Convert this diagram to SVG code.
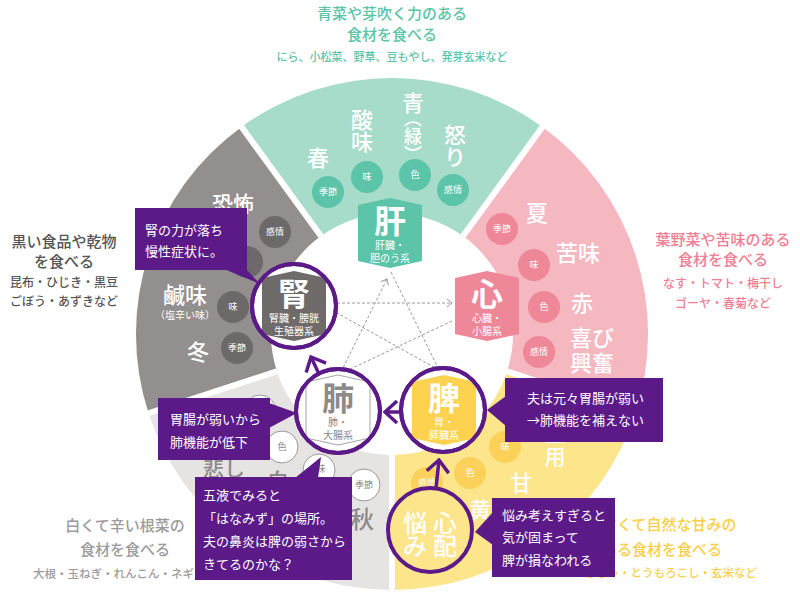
<svg xmlns="http://www.w3.org/2000/svg" width="800" height="600" viewBox="0 0 800 600">
<style>
text{font-family:"Noto Sans CJK JP","Noto Sans",sans-serif}
.big{font-size:22px;fill:#fff;font-weight:500;text-anchor:middle}
.ct{font-size:9px;fill:#fff;text-anchor:middle}
.ctg{font-size:9px;fill:#8c8a8a;text-anchor:middle}
.glyph{font-size:32px;fill:#fff;font-weight:700;text-anchor:middle}
.sub{font-size:10px;fill:#fff;text-anchor:middle}
.co{font-size:13px;fill:#fff}
.cbox{fill:#5b1a87}
.gap{stroke:#fff;stroke-width:6}
.ring{fill:#fff;stroke:#5b1a87;stroke-width:4}
.star{fill:none;stroke:#9a9a9a;stroke-width:1;stroke-dasharray:3 2}
.parrow{fill:none;stroke:#5b1a87;stroke-width:3.5}
.cgc{fill:#5cc4a8}.cpk{fill:#ee8797}.cyl{fill:#fbd15a}.cgy{fill:#6d6969}
.clu{fill:#fff;stroke:#9a9898;stroke-width:1}
</style>
<defs>
<path id="badge" d="M-32,-28 L0,-35 L32,-28 L32,28 L0,35 L-32,28 Z"/>
<marker id="chev" viewBox="-16 -14 18 28" refX="0" refY="0" markerWidth="18" markerHeight="28" markerUnits="userSpaceOnUse" orient="auto">
<path d="M-12,-11 L0,0 L-12,11" fill="none" stroke="#5b1a87" stroke-width="3.5"/>
</marker>
<marker id="dchev" viewBox="-7 -5 8 10" refX="0" refY="0" markerWidth="8" markerHeight="10" markerUnits="userSpaceOnUse" orient="auto">
<path d="M-5,-4 L0,0 L-5,4" fill="none" stroke="#9a9a9a" stroke-width="1"/>
</marker>
</defs>

<!-- sectors -->
<g id="sector-wood">
<path d="M241.5,126.9 A256,256 0 0 1 542.5,126.9 L463.1,236.1 A121,121 0 0 0 320.9,236.1 Z" fill="#a7dccb"/>
<text class="big" x="318" y="166">春</text>
<text class="big" x="362" y="128">酸</text>
<text class="big" x="362" y="150">味</text>
<text class="big" x="413" y="111">青</text>
<text x="413" y="109" style="writing-mode:vertical-rl" font-size="18" fill="#fff" font-weight="500">（緑）</text>
<text class="big" x="455" y="143">怒</text>
<text class="big" x="455" y="165">り</text>
<circle class="cgc" cx="328" cy="192" r="16"/><text class="ct" x="328" y="195">季節</text>
<circle class="cgc" cx="367" cy="177" r="16"/><text class="ct" x="367" y="180">味</text>
<circle class="cgc" cx="415" cy="175" r="16"/><text class="ct" x="415" y="178">色</text>
<circle class="cgc" cx="453" cy="190" r="16"/><text class="ct" x="453" y="193">感情</text>
</g>

<g id="sector-fire">
<path d="M542.5,126.9 A256,256 0 0 1 635.5,413.1 L507.1,371.4 A121,121 0 0 0 463.1,236.1 Z" fill="#f5b7c0"/>
<text class="big" x="537" y="221">夏</text>
<text class="big" x="578" y="261">苦味</text>
<text class="big" x="582" y="311">赤</text>
<text class="big" x="592" y="346">喜び</text>
<text class="big" x="592" y="371">興奮</text>
<circle class="cpk" cx="502" cy="229" r="16"/><text class="ct" x="502" y="232">季節</text>
<circle class="cpk" cx="534" cy="265" r="16"/><text class="ct" x="534" y="268">味</text>
<circle class="cpk" cx="544" cy="307" r="16"/><text class="ct" x="544" y="310">色</text>
<circle class="cpk" cx="539" cy="352" r="16"/><text class="ct" x="539" y="355">感情</text>
</g>

<g id="sector-earth">
<path d="M635.5,413.1 A256,256 0 0 1 392,590 L392,455 A121,121 0 0 0 507.1,371.4 Z" fill="#fde58c"/>
<text class="big" x="555" y="441" style="font-size:21px">土</text>
<text class="big" x="555" y="464" style="font-size:21px">用</text>
<text class="big" x="521" y="491">甘</text>
<text class="big" x="480" y="518">黄</text>
<circle class="cyl" cx="505" cy="447" r="16"/><text class="ct" x="505" y="450">味</text>
<circle class="cyl" cx="470" cy="473" r="16"/><text class="ct" x="470" y="476">色</text>
<circle class="cyl" cx="427" cy="483" r="16"/><text class="ct" x="427" y="486">感情</text>
</g>

<g id="sector-metal">
<path d="M392,590 A256,256 0 0 1 148.5,413.1 L276.9,371.4 A121,121 0 0 0 392,455 Z" fill="#e6e3e3"/>
<text class="big" x="224" y="476" style="fill:#8c8a8a;font-size:21px">悲し</text>
<text class="big" x="278" y="489" style="fill:#8c8a8a">白</text>
<text class="big" x="362" y="528" style="fill:#8c8a8a;font-size:24px">秋</text>
<circle class="clu" cx="260" cy="411" r="16"/>
<circle class="clu" cx="282" cy="447" r="16"/><text class="ctg" x="282" y="450">色</text>
<circle class="clu" cx="319" cy="470" r="16"/><text class="ctg" x="321" y="472">味</text>
<circle class="clu" cx="364" cy="485" r="16"/><text class="ctg" x="364" y="488">季節</text>
</g>

<g id="sector-water">
<path d="M148.5,413.1 A256,256 0 0 1 241.5,126.9 L320.9,236.1 A121,121 0 0 0 276.9,371.4 Z" fill="#938f8f"/>
<text class="big" x="233" y="211" style="font-size:21px">恐怖</text>
<text class="big" x="185" y="303">鹹味</text>
<text x="185" y="319" font-size="10" fill="#fff" text-anchor="middle">（塩辛い味）</text>
<text class="big" x="198" y="360">冬</text>
<circle class="cgy" cx="275" cy="232" r="16"/><text class="ct" x="275" y="235">感情</text>
<circle class="cgy" cx="247" cy="262" r="16"/>
<circle class="cgy" cx="233" cy="307" r="16"/><text class="ct" x="233" y="310">味</text>
<circle class="cgy" cx="237" cy="348" r="16"/><text class="ct" x="237" y="351">季節</text>
</g>

<g id="gaps">
<line class="gap" x1="320.9" y1="236.1" x2="238" y2="122"/>
<line class="gap" x1="463.1" y1="236.1" x2="546" y2="122"/>
<line class="gap" x1="507.1" y1="371.4" x2="641" y2="415"/>
<line class="gap" x1="392" y1="455" x2="392" y2="600"/>
<line class="gap" x1="276.9" y1="371.4" x2="143" y2="415"/>
</g>

<!-- connectors -->
<g id="connectors">
<path class="star" d="M341,372 L387,279" marker-end="url(#dchev)"/>
<path class="star" d="M391,272 L439,370"/>
<path class="star" d="M337,303 L452,303" marker-end="url(#dchev)"/>
<path class="star" d="M439,370 L337,313"/>
<path class="star" d="M452,321 L342,373"/>
</g>

<!-- organ nodes -->
<g id="node-kan">
<use href="#badge" x="390" y="233" fill="#5cc4a8"/>
<text class="glyph" x="390" y="233">肝</text>
<text class="sub" x="390" y="249">肝臓・</text>
<text class="sub" x="390" y="262">胆のう系</text>
</g>
<g id="node-shin">
<use href="#badge" x="487" y="306" fill="#ee8797"/>
<text class="glyph" x="487" y="306">心</text>
<text class="sub" x="487" y="322">心臓・</text>
<text class="sub" x="487" y="335">小腸系</text>
</g>
<g id="node-hi">
<circle class="ring" cx="443" cy="410" r="42"/>
<use href="#badge" x="444" y="410" fill="#fcd24f"/>
<text class="glyph" x="444" y="410">脾</text>
<text class="sub" x="444" y="426">胃・</text>
<text class="sub" x="444" y="439">膵臓系</text>
<circle cx="443" cy="410" r="42" fill="none" stroke="#5b1a87" stroke-width="4"/>
</g>
<g id="node-hai">
<circle class="ring" cx="338" cy="411" r="42"/>
<use href="#badge" x="338" y="410" fill="#fff" stroke="#a8a6a6" stroke-width="1"/>
<text class="glyph" x="338" y="410" style="fill:#8c8a8a">肺</text>
<text class="sub" x="338" y="426" style="fill:#8c8a8a">肺・</text>
<text class="sub" x="338" y="439" style="fill:#8c8a8a">大腸系</text>
<circle cx="338" cy="411" r="42" fill="none" stroke="#5b1a87" stroke-width="4"/>
</g>
<g id="node-jin">
<circle class="ring" cx="294" cy="306" r="42"/>
<use href="#badge" x="294" y="306" fill="#6f6b6b"/>
<text class="glyph" x="294" y="306">腎</text>
<text class="sub" x="294" y="322">腎臓・膀胱</text>
<text class="sub" x="294" y="335">生殖器系</text>
<circle cx="294" cy="306" r="42" fill="none" stroke="#5b1a87" stroke-width="4"/>
</g>
<g id="node-nayami">
<circle cx="430" cy="530" r="42" fill="#fde58c" stroke="#5b1a87" stroke-width="4"/>
<text x="433" y="532" font-size="24" fill="#fff" font-weight="500" text-anchor="middle" letter-spacing="6">悩心</text>
<text x="433" y="555" font-size="24" fill="#fff" font-weight="500" text-anchor="middle" letter-spacing="6">み配</text>
</g>

<g id="purple-arrows">
<path class="parrow" d="M319,374 L311,357" marker-end="url(#chev)"/>
<path class="parrow" d="M401,412 L385,412" marker-end="url(#chev)"/>
<path class="parrow" d="M436,488 L439,460" marker-end="url(#chev)"/>
</g>

<!-- outside texts -->
<g id="food-wood" fill="#5cc4a8" text-anchor="middle" font-weight="500">
<text x="392" y="19" font-size="15">青菜や芽吹く力のある</text>
<text x="392" y="40" font-size="15">食材を食べる</text>
<text x="392" y="61" font-size="11">にら、小松菜、野草、豆もやし、発芽玄米など</text>
</g>
<g id="food-fire" fill="#ee7f95" text-anchor="middle" font-weight="500">
<text x="723" y="245" font-size="15">葉野菜や苦味のある</text>
<text x="723" y="265" font-size="15">食材を食べる</text>
<text x="723" y="288" font-size="12">なす・トマト・梅干し</text>
<text x="723" y="308" font-size="12">ゴーヤ・春菊など</text>
</g>
<g id="food-water" fill="#555" text-anchor="middle" font-weight="500">
<text x="64" y="247" font-size="15">黒い食品や乾物</text>
<text x="64" y="267" font-size="15">を食べる</text>
<text x="64" y="287" font-size="12">昆布・ひじき・黒豆</text>
<text x="64" y="306" font-size="12">ごぼう・あずきなど</text>
</g>
<g id="food-metal" fill="#9d9b9b" text-anchor="middle" font-weight="500">
<text x="125" y="531" font-size="15">白くて辛い根菜の</text>
<text x="125" y="555" font-size="15">食材を食べる</text>
<text x="125" y="578" font-size="11.5">大根・玉ねぎ・れんこん・ネギなど</text>
</g>
<g id="food-earth" fill="#fbcf4a" font-weight="500">
<text x="602" y="530" font-size="15">甘くて自然な甘みの</text>
<text x="602" y="555" font-size="15">ある食材を食べる</text>
<text x="757" y="577" font-size="11.5" text-anchor="end">かぼちゃ・とうもろこし・玄米など</text>
</g>

<!-- callouts -->
<g id="note-jin">
<rect class="cbox" x="135" y="208" width="112" height="62"/>
<polygon class="cbox" points="224,269 246,269 260,284"/>
<text class="co" x="145" y="235">腎の力が落ち</text>
<text class="co" x="145" y="256">慢性症状に。</text>
</g>
<g id="note-hai">
<rect class="cbox" x="158" y="398" width="112" height="62"/>
<polygon class="cbox" points="269,403 297,413 269,428"/>
<text class="co" x="170" y="424">胃腸が弱いから</text>
<text class="co" x="170" y="447">肺機能が低下</text>
</g>
<g id="note-goeki">
<rect class="cbox" x="195" y="477" width="157" height="103"/>
<polygon class="cbox" points="295,478 318,478 321,457"/>
<text class="co" x="203" y="500">五液でみると</text>
<text class="co" x="203" y="523">「はなみず」の場所。</text>
<text class="co" x="203" y="546">夫の鼻炎は脾の弱さから</text>
<text class="co" x="203" y="569">きてるのかな？</text>
</g>
<g id="note-hi">
<rect class="cbox" x="505" y="378" width="158" height="64"/>
<polygon class="cbox" points="506,396 487,410 506,426"/>
<text class="co" x="527" y="403">夫は元々胃腸が弱い</text>
<text class="co" x="527" y="425">→肺機能を補えない</text>
</g>
<g id="note-nayami">
<rect class="cbox" x="492" y="498" width="123" height="79"/>
<polygon class="cbox" points="493,512 475,532 493,545"/>
<text class="co" x="502" y="520">悩み考えすぎると</text>
<text class="co" x="502" y="542">気が固まって</text>
<text class="co" x="502" y="565">脾が損なわれる</text>
</g>
</svg>
